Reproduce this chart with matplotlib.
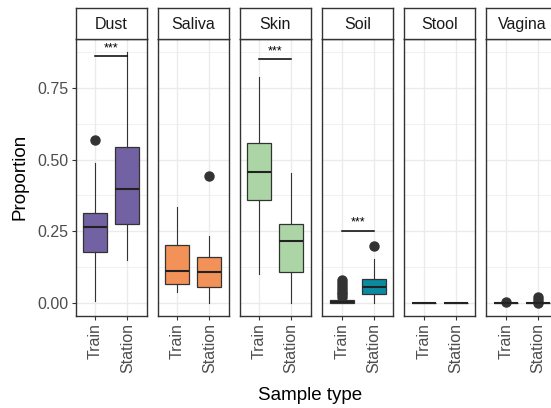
import matplotlib
matplotlib.use("Agg")
import matplotlib.pyplot as plt
from matplotlib.patches import Rectangle

plt.rcParams['font.family'] = ['Liberation Sans', 'DejaVu Sans']

categories = ["Dust", "Saliva", "Skin", "Soil", "Stool", "Vagina"]
sample_types = ["Train", "Station"]
fill_colors = ["#7261a3", "#f29158", "#acd5a6", "#0b8ba1", "#d9d9d9", "#d9d9d9"]

# [Train, Station] per category
whislo = [[0.008, 0.150], [0.040, 0.000], [0.101, 0.000], [0.000, 0.000], [0.0, 0.0], [0.0, 0.0]]
q1     = [[0.178, 0.274], [0.067, 0.057], [0.360, 0.108], [0.000, 0.032], [0.0, 0.0], [0.0, 0.0]]
med    = [[0.265, 0.397], [0.110, 0.108], [0.458, 0.216], [0.003, 0.057], [0.0, 0.0], [0.0, 0.0]]
q3     = [[0.314, 0.545], [0.202, 0.162], [0.557, 0.274], [0.010, 0.083], [0.0, 0.0], [0.0, 0.0]]
whishi = [[0.488, 0.877], [0.334, 0.234], [0.787, 0.452], [0.014, 0.153], [0.0, 0.0], [0.0, 0.0]]
fliers = [[[0.569], []],
          [[], [0.444]],
          [[], []],
          [[0.02, 0.03, 0.04, 0.05, 0.06, 0.07, 0.08], [0.20]],
          [[], []],
          [[0.005], [0.0, 0.01, 0.02]]]
sig_labels = ["***", None, "***", "***", None, None]
sig_heights = [0.86, None, 0.85, 0.251, None, None]

yticks = [0.0, 0.25, 0.50, 0.75]
ytick_labels = ["0.00", "0.25", "0.50", "0.75"]

W, H = 551, 408
fig = plt.figure(figsize=(W / 100, H / 100), dpi=100)

panel_lefts = [75.7, 157.7, 239.5, 322.3, 404.3, 486.3]
pw = 71.0
ptop, pbot = 39.0, 316.0
stop = 8.3

edge = "#333333"
grid_c = "#ebebeb"
tick_c = "#4d4d4d"

for i, cat in enumerate(categories):
    l = panel_lefts[i]
    ax = fig.add_axes([l / W, (H - pbot) / H, pw / W, (pbot - ptop) / H])
    ax.set_xlim(0.4, 2.6)
    ax.set_ylim(-0.0453, 0.9208)
    ax.set_yticks(yticks)
    ax.set_yticks([0.125, 0.375, 0.625, 0.875], minor=True)
    ax.set_xticks([1, 2])
    ax.grid(True, which='major', color=grid_c, lw=1.0, zorder=0)
    ax.grid(True, which='minor', axis='y', color=grid_c, lw=0.5, zorder=0)
    ax.set_axisbelow(True)
    for sp in ax.spines.values():
        sp.set_color(edge)
        sp.set_linewidth(1.0)
    ax.tick_params(axis='y', which='minor', length=0)
    ax.tick_params(axis='both', which='major', length=3.2, width=0.8, color=edge,
                   labelcolor=tick_c, labelsize=11.5, pad=2)
    ax.set_xticklabels(sample_types, rotation=90)
    if i == 0:
        ax.set_yticklabels(ytick_labels)
    else:
        ax.tick_params(axis='y', which='major', length=0, labelleft=False)

    stats = []
    for j, st in enumerate(sample_types):
        stats.append(dict(whislo=whislo[i][j], q1=q1[i][j], med=med[i][j], q3=q3[i][j],
                          whishi=whishi[i][j], fliers=fliers[i][j], label=st))
    ax.bxp(stats, positions=[1, 2], widths=0.75, patch_artist=True, showcaps=False,
           boxprops=dict(facecolor=fill_colors[i], edgecolor=edge, linewidth=0.9),
           medianprops=dict(color="#222222", linewidth=1.5),
           whiskerprops=dict(color=edge, linewidth=0.8),
           flierprops=dict(marker='o', markerfacecolor=edge, markeredgecolor=edge,
                           markersize=6.5),
           manage_ticks=False, zorder=3)

    if sig_labels[i]:
        h = sig_heights[i]
        ax.plot([1, 2], [h, h], color='black', lw=1.1, zorder=4)
        ax.text(1.5, h + 0.008, sig_labels[i], ha='center', va='bottom', fontsize=9,
                color='black')

    # strip
    sax = fig.add_axes([l / W, (H - ptop) / H, pw / W, (ptop - stop) / H])
    sax.set_xticks([]); sax.set_yticks([])
    sax.set_facecolor('white')
    for sp in sax.spines.values():
        sp.set_color(edge)
        sp.set_linewidth(1.0)
    sax.text(0.5, 0.48, cat, ha='center', va='center', fontsize=11.5, color='#1a1a1a',
             transform=sax.transAxes)

fig.text(20 / W, 1 - 177 / H, "Proportion", rotation=90, ha='center', va='center',
         fontsize=13.5, color='black')
fig.text(310 / W, 1 - 396 / H, "Sample type", ha='center', va='center',
         fontsize=13.5, color='black')

fig.savefig("out.png", dpi=100)
